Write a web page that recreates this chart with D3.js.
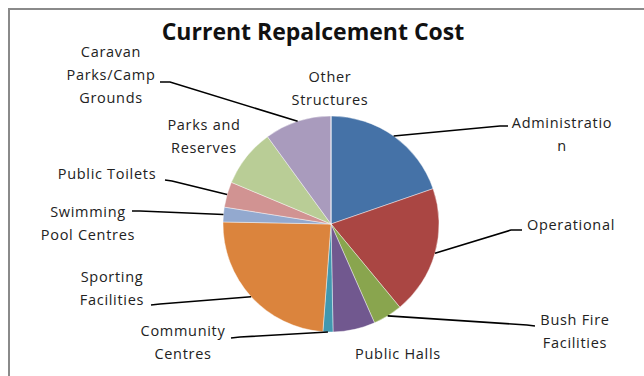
<!DOCTYPE html>
<html>
<head>
<meta charset="utf-8">
<script src="https://cdn.jsdelivr.net/npm/d3@7"></script>
<style>
  body { margin: 0; background: #fff; }
  svg { display: block; }
  text { font-family: "Open Sans", sans-serif; fill: #222; }
</style>
</head>
<body>
<svg></svg>
<script>
// data (percent of total cost)
const categories = [
  "Administration", "Operational", "Bush Fire Facilities", "Public Halls",
  "Community Centres", "Sporting Facilities", "Swimming Pool Centres",
  "Public Toilets", "Parks and Reserves", "Other Structures",
  "Caravan Parks/Camp Grounds"
];
const costShare = [19.7, 19.3, 4.4, 6.3, 1.5, 24.1, 2.2, 3.8, 8.7, 10.0, 0];
const sliceColors = [
  "#4572A7", "#AA4643", "#89A54E", "#71588F", "#4198AF", "#DB843D",
  "#93A9CF", "#D19392", "#B9CD96", "#A99BBD", "#91C3D5"
];
const chartTitle = "Current Repalcement Cost";

// label layout: text lines, text centre, leader bend points (null = no leader)
const labelLayout = [
  { lines: ["Administratio", "n"], x: 562, y: 123, leader: [[500, 126], [508, 126]] },
  { lines: ["Operational"], x: 571, y: 225, leader: [[511, 230], [522, 230]] },
  { lines: ["Bush Fire", "Facilities"], x: 575, y: 320, leader: [[527, 325], [535, 326]] },
  { lines: ["Public Halls"], x: 398, y: 354, leader: null },
  { lines: ["Community", "Centres"], x: 183, y: 331, leader: [[240, 337], [231, 338]] },
  { lines: ["Sporting", "Facilities"], x: 112, y: 277, leader: [[160, 304], [151, 305]] },
  { lines: ["Swimming", "Pool Centres"], x: 88, y: 212, leader: [[140, 211], [132, 211]] },
  { lines: ["Public Toilets"], x: 107, y: 174, leader: [[172, 181], [165, 180]] },
  { lines: ["Parks and", "Reserves"], x: 204, y: 125, leader: null },
  { lines: ["Other", "Structures"], x: 330, y: 77, leader: null },
  { lines: ["Caravan", "Parks/Camp", "Grounds"], x: 111, y: 52, leader: [[170, 82], [160, 82]], angle: 342 }
];

const width = 644;
const height = 376;
const cx = 331;
const cy = 224;
const radius = 108;
const lineHeight = 23;

const svg = d3.select("svg").attr("width", width).attr("height", height);

// chart frame (right and bottom edges are cut off)
svg.append("path")
  .attr("d", "M9,380 L9,9 L650,9")
  .attr("fill", "none")
  .attr("stroke", "#8a8a8a")
  .attr("stroke-width", 2);

svg.append("text")
  .attr("x", 313)
  .attr("y", 40)
  .attr("text-anchor", "middle")
  .style("font-size", "23px")
  .style("font-weight", "bold")
  .style("fill", "#111")
  .text(chartTitle);

const pie = d3.pie().sort(null).value((d) => d);
const arcs = pie(costShare);
const arc = d3.arc().innerRadius(0).outerRadius(radius);

const g = svg.append("g").attr("transform", "translate(" + cx + "," + cy + ")");

g.selectAll("path.slice")
  .data(arcs)
  .enter()
  .append("path")
  .attr("class", "slice")
  .attr("d", arc)
  .attr("fill", (d, i) => sliceColors[i])
  .attr("stroke", "#fff")
  .attr("stroke-width", 0.6)
  .attr("stroke-opacity", 0.7);

// leader lines from the middle of each slice's edge
const line = d3.line();
labelLayout.forEach((lab, i) => {
  if (!lab.leader) return;
  const a = lab.angle != null
    ? lab.angle * Math.PI / 180
    : (arcs[i].startAngle + arcs[i].endAngle) / 2;
  const start = [cx + radius * Math.sin(a), cy - radius * Math.cos(a)];
  svg.append("path")
    .attr("d", line([start].concat(lab.leader)))
    .attr("fill", "none")
    .attr("stroke", "#000")
    .attr("stroke-width", 1.6);
});

// labels
labelLayout.forEach((lab) => {
  const t = svg.append("text")
    .attr("text-anchor", "middle")
    .style("font-size", "14.5px")
    .style("letter-spacing", "0.7px");
  lab.lines.forEach((s, k) => {
    t.append("tspan")
      .attr("x", lab.x)
      .attr("y", lab.y + k * lineHeight)
      .attr("dy", "0.35em")
      .text(s);
  });
});
</script>
</body>
</html>
